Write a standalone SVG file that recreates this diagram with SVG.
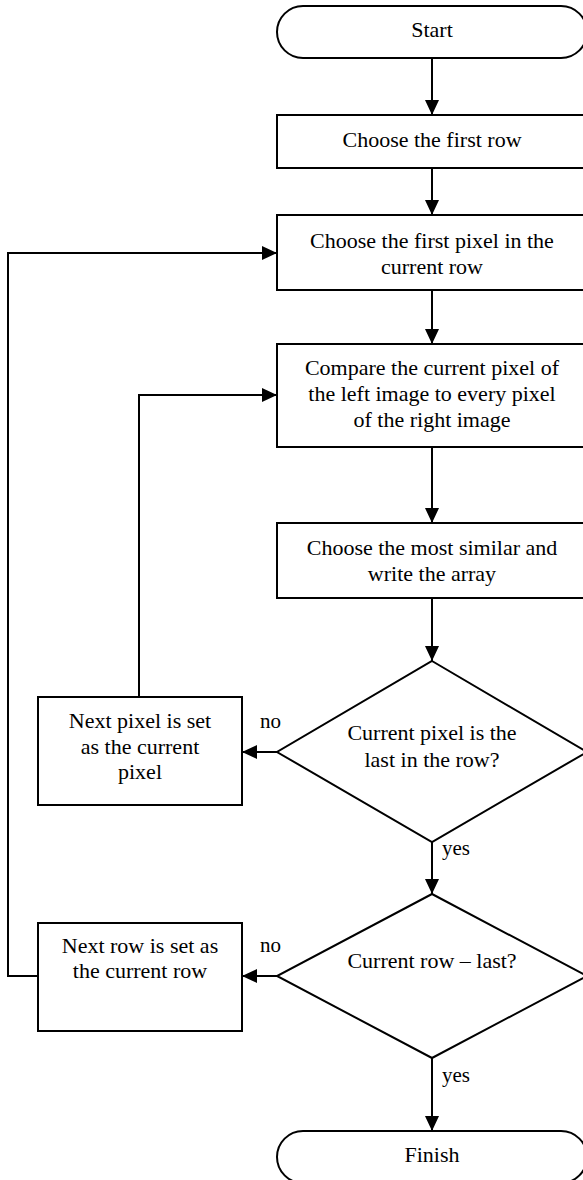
<svg xmlns="http://www.w3.org/2000/svg" width="583" height="1180" viewBox="0 0 583 1180">
  <style>
    .shape { fill: #ffffff; stroke: #000000; stroke-width: 2; }
    .edge { fill: none; stroke: #000000; stroke-width: 2; }
    .t { font-size: 22px; fill: #000000; text-anchor: middle; }
    .lbl { font-size: 21px; fill: #000000; text-anchor: start; }
  </style>
  <defs>
    <marker id="arrow" markerUnits="userSpaceOnUse" markerWidth="15" markerHeight="14" refX="15" refY="7" orient="auto">
      <path d="M0,0 L15,7 L0,14 Z" fill="#000000"/>
    </marker>
  </defs>
  <rect width="583" height="1180" fill="#ffffff"/>

  <g font-family="'Liberation Serif', 'DejaVu Serif', serif">
  <!-- flow connectors -->
  <g id="connectors">
    <line class="edge" x1="432" y1="58" x2="432" y2="115" marker-end="url(#arrow)"/>
    <line class="edge" x1="432" y1="168" x2="432" y2="215" marker-end="url(#arrow)"/>
    <line class="edge" x1="432" y1="290" x2="432" y2="344" marker-end="url(#arrow)"/>
    <line class="edge" x1="432" y1="447" x2="432" y2="523" marker-end="url(#arrow)"/>
    <line class="edge" x1="432" y1="598" x2="432" y2="661" marker-end="url(#arrow)"/>
    <line class="edge" x1="432" y1="842" x2="432" y2="894" marker-end="url(#arrow)"/>
    <line class="edge" x1="432" y1="1058" x2="432" y2="1131" marker-end="url(#arrow)"/>
    <line class="edge" x1="277" y1="752" x2="242" y2="752" marker-end="url(#arrow)"/>
    <polyline class="edge" points="139,697 139,395 277,395" marker-end="url(#arrow)"/>
    <line class="edge" x1="277" y1="976" x2="242" y2="976" marker-end="url(#arrow)"/>
    <polyline class="edge" points="38,976 8,976 8,253 277,253" marker-end="url(#arrow)"/>
    <text class="lbl" x="260" y="728">no</text>
    <text class="lbl" x="260" y="952">no</text>
    <text class="lbl" x="442" y="855">yes</text>
    <text class="lbl" x="442" y="1082">yes</text>
  </g>

  <g id="start">
    <rect class="shape" x="277" y="6" width="310" height="52" rx="26" ry="26"/>
    <text class="t" x="432" y="37">Start</text>
  </g>

  <g id="first-row">
    <rect class="shape" x="277" y="115" width="310" height="53"/>
    <text class="t" x="432" y="147">Choose the first row</text>
  </g>

  <g id="first-pixel">
    <rect class="shape" x="277" y="215" width="310" height="75"/>
    <text class="t" x="432" y="248">Choose the first pixel in the</text>
    <text class="t" x="432" y="274">current row</text>
  </g>

  <g id="compare">
    <rect class="shape" x="277" y="344" width="310" height="103"/>
    <text class="t" x="432" y="375">Compare the current pixel of</text>
    <text class="t" x="432" y="401">the left image to every pixel</text>
    <text class="t" x="432" y="427">of the right image</text>
  </g>

  <g id="most-similar">
    <rect class="shape" x="277" y="523" width="310" height="75"/>
    <text class="t" x="432" y="555">Choose the most similar and</text>
    <text class="t" x="432" y="581">write the array</text>
  </g>

  <g id="last-pixel">
    <polygon class="shape" points="432,661 587,752 432,842 277,752"/>
    <text class="t" x="432" y="740">Current pixel is the</text>
    <text class="t" x="432" y="767">last in the row?</text>
  </g>

  <g id="next-pixel">
    <rect class="shape" x="38" y="697" width="204" height="108"/>
    <text class="t" x="140" y="728">Next pixel is set</text>
    <text class="t" x="140" y="754">as the current</text>
    <text class="t" x="140" y="779">pixel</text>
  </g>

  <g id="last-row">
    <polygon class="shape" points="432,894 587,976 432,1058 277,976"/>
    <text class="t" x="432" y="968">Current row – last?</text>
  </g>

  <g id="next-row">
    <rect class="shape" x="38" y="923" width="204" height="108"/>
    <text class="t" x="140" y="953">Next row is set as</text>
    <text class="t" x="140" y="978">the current row</text>
  </g>

  <g id="finish">
    <rect class="shape" x="277" y="1131" width="310" height="52" rx="26" ry="26"/>
    <text class="t" x="432" y="1162">Finish</text>
  </g>
  </g>
</svg>
